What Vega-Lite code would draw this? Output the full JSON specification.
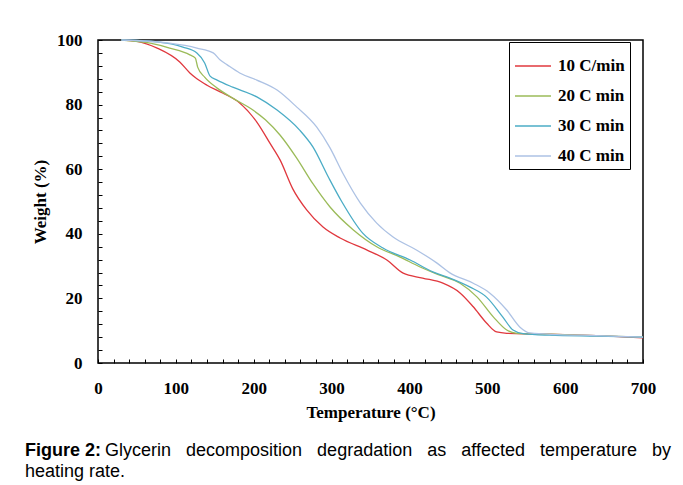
{
  "$schema": "https://vega.github.io/schema/vega-lite/v6.json",
  "width": 545,
  "height": 323,
  "autosize": {"type": "none"},
  "padding": {"left": 98, "top": 40, "right": 40, "bottom": 122},
  "background": "white",
  "config": {
    "view": {"stroke": "#000", "strokeWidth": 1.5},
    "axis": {"grid": false, "domain": false}
  },
  "title": {
    "text": "Figure 2:",
    "subtitle": ["\u200b\u00a0\u00a0\u00a0\u00a0\u00a0\u00a0\u00a0\u00a0\u00a0\u00a0\u00a0\u00a0\u00a0\u00a0\u00a0\u00a0Glycerin\u00a0\u00a0 decomposition\u00a0\u00a0 degradation\u00a0\u00a0 as\u00a0\u00a0 affected\u00a0\u00a0 temperature\u00a0\u00a0 by", "heating rate."],
    "orient": "bottom",
    "anchor": "start",
    "frame": "group",
    "dx": -73,
    "offset": 22,
    "font": "Liberation Sans",
    "fontSize": 18,
    "fontWeight": "bold",
    "color": "#000",
    "subtitleFont": "Liberation Sans",
    "subtitleFontSize": 18,
    "subtitleFontWeight": "normal",
    "subtitleColor": "#000",
    "subtitleLineHeight": 21,
    "subtitlePadding": -18
  },
  "data": {"values": [
    {"s":"10 C/min","t":30,"w":100},{"s":"10 C/min","t":50,"w":99.6},{"s":"10 C/min","t":76,"w":97.5},{"s":"10 C/min","t":105,"w":93.2},{"s":"10 C/min","t":118,"w":89.8},{"s":"10 C/min","t":127,"w":88},{"s":"10 C/min","t":140,"w":86},{"s":"10 C/min","t":160,"w":83.6},{"s":"10 C/min","t":182,"w":80.5},{"s":"10 C/min","t":204,"w":74.6},{"s":"10 C/min","t":221,"w":68},{"s":"10 C/min","t":234,"w":62.8},{"s":"10 C/min","t":250,"w":54},{"s":"10 C/min","t":268,"w":47.4},{"s":"10 C/min","t":289,"w":42.1},{"s":"10 C/min","t":311,"w":38.7},{"s":"10 C/min","t":345,"w":35},{"s":"10 C/min","t":371,"w":31.9},{"s":"10 C/min","t":392,"w":27.8},{"s":"10 C/min","t":417,"w":26.3},{"s":"10 C/min","t":443,"w":24.7},{"s":"10 C/min","t":465,"w":21.7},{"s":"10 C/min","t":482,"w":17.4},{"s":"10 C/min","t":499,"w":12.4},{"s":"10 C/min","t":512,"w":9.6},{"s":"10 C/min","t":525,"w":9.2},{"s":"10 C/min","t":560,"w":9},{"s":"10 C/min","t":600,"w":8.8},{"s":"10 C/min","t":650,"w":8.4},{"s":"10 C/min","t":700,"w":7.8},
    {"s":"20 C min","t":30,"w":100},{"s":"20 C min","t":67,"w":99},{"s":"20 C min","t":92,"w":97.5},{"s":"20 C min","t":118,"w":95.4},{"s":"20 C min","t":125,"w":94.4},{"s":"20 C min","t":128,"w":91.6},{"s":"20 C min","t":137,"w":88.5},{"s":"20 C min","t":153,"w":85.1},{"s":"20 C min","t":173,"w":82},{"s":"20 C min","t":199,"w":78.3},{"s":"20 C min","t":215,"w":75.3},{"s":"20 C min","t":234,"w":70.5},{"s":"20 C min","t":255,"w":63.5},{"s":"20 C min","t":276,"w":55.5},{"s":"20 C min","t":298,"w":48.3},{"s":"20 C min","t":328,"w":41.2},{"s":"20 C min","t":358,"w":36},{"s":"20 C min","t":388,"w":32.8},{"s":"20 C min","t":413,"w":29.8},{"s":"20 C min","t":439,"w":27.2},{"s":"20 C min","t":465,"w":24.7},{"s":"20 C min","t":487,"w":20.4},{"s":"20 C min","t":508,"w":14.2},{"s":"20 C min","t":525,"w":10.2},{"s":"20 C min","t":538,"w":9.2},{"s":"20 C min","t":580,"w":8.9},{"s":"20 C min","t":640,"w":8.5},{"s":"20 C min","t":700,"w":8},
    {"s":"30 C min","t":30,"w":100},{"s":"30 C min","t":76,"w":99.4},{"s":"30 C min","t":109,"w":97.8},{"s":"30 C min","t":127,"w":96},{"s":"30 C min","t":137,"w":92.9},{"s":"30 C min","t":144,"w":88.8},{"s":"30 C min","t":153,"w":87.6},{"s":"30 C min","t":173,"w":85.4},{"s":"30 C min","t":204,"w":82.4},{"s":"30 C min","t":230,"w":78.3},{"s":"30 C min","t":259,"w":72.1},{"s":"30 C min","t":276,"w":66.9},{"s":"30 C min","t":296,"w":57.5},{"s":"30 C min","t":313,"w":50},{"s":"30 C min","t":340,"w":40.2},{"s":"30 C min","t":366,"w":35.6},{"s":"30 C min","t":401,"w":31.9},{"s":"30 C min","t":430,"w":28.2},{"s":"30 C min","t":452,"w":26.3},{"s":"30 C min","t":478,"w":23.5},{"s":"30 C min","t":499,"w":20.4},{"s":"30 C min","t":520,"w":14.2},{"s":"30 C min","t":533,"w":10.2},{"s":"30 C min","t":546,"w":9.1},{"s":"30 C min","t":580,"w":8.6},{"s":"30 C min","t":640,"w":8.3},{"s":"30 C min","t":700,"w":8},
    {"s":"40 C min","t":30,"w":100},{"s":"40 C min","t":92,"w":99},{"s":"40 C min","t":127,"w":97.5},{"s":"40 C min","t":148,"w":96},{"s":"40 C min","t":157,"w":93.8},{"s":"40 C min","t":166,"w":92.3},{"s":"40 C min","t":182,"w":89.8},{"s":"40 C min","t":204,"w":87.6},{"s":"40 C min","t":230,"w":84.5},{"s":"40 C min","t":255,"w":79.3},{"s":"40 C min","t":281,"w":73},{"s":"40 C min","t":298,"w":66.6},{"s":"40 C min","t":315,"w":58.5},{"s":"40 C min","t":337,"w":49.5},{"s":"40 C min","t":358,"w":43.3},{"s":"40 C min","t":379,"w":39},{"s":"40 C min","t":409,"w":35},{"s":"40 C min","t":435,"w":31},{"s":"40 C min","t":452,"w":27.9},{"s":"40 C min","t":482,"w":24.7},{"s":"40 C min","t":503,"w":21.7},{"s":"40 C min","t":525,"w":16.4},{"s":"40 C min","t":542,"w":11.1},{"s":"40 C min","t":555,"w":9.3},{"s":"40 C min","t":590,"w":8.8},{"s":"40 C min","t":640,"w":8.5},{"s":"40 C min","t":700,"w":8}
  ]},
  "resolve": {"axis": {"x": "independent", "y": "independent"}},
  "layer": [
    {
      "mark": {"type": "line", "interpolate": "monotone", "strokeWidth": 1.3},
      "encoding": {
        "x": {"field": "t", "type": "quantitative",
          "scale": {"domain": [0, 700], "nice": false, "zero": false},
          "axis": {"orient": "bottom", "values": [0,100,200,300,400,500,600,700], "ticks": false, "labelPadding": 17, "labelFlush": false,
            "labelFont": "Liberation Serif", "labelFontSize": 17, "labelFontWeight": "bold", "labelColor": "#000",
            "title": "Temperature (°C)", "titleFont": "Liberation Serif", "titleFontSize": 17, "titleFontWeight": "bold", "titleColor": "#000", "titlePadding": 8}},
        "y": {"field": "w", "type": "quantitative",
          "scale": {"domain": [0, 100], "nice": false},
          "axis": {"orient": "left", "values": [0,20,40,60,80,100], "ticks": false, "labelPadding": 16, "labelFlush": false,
            "labelFont": "Liberation Serif", "labelFontSize": 17, "labelFontWeight": "bold", "labelColor": "#000",
            "title": "Weight (%)", "titleFont": "Liberation Serif", "titleFontSize": 17, "titleFontWeight": "bold", "titleColor": "#000", "titlePadding": 7}},
        "color": {"field": "s", "type": "nominal",
          "scale": {"domain": ["10 C/min","20 C min","30 C min","40 C min"], "range": ["#e0383e","#9bbb59","#4bacc6","#adc2e4"]},
          "legend": {"orient": "none", "legendX": 411, "legendY": 2, "title": null,
            "fillColor": "#fff", "strokeColor": "#000", "padding": 5,
            "symbolType": "stroke", "symbolSize": 1300, "symbolStrokeWidth": 1.5,
            "labelFont": "Liberation Serif", "labelFontSize": 17, "labelFontWeight": "bold", "labelColor": "#000",
            "rowPadding": 3, "labelOffset": 6}}
      }
    },
    {
      "mark": {"type": "line", "strokeOpacity": 0},
      "encoding": {
        "x": {"field": "t", "type": "quantitative",
          "axis": {"orient": "bottom", "values": [0,20,40,60,80,100,120,140,160,180,200,220,240,260,280,300,320,340,360,380,400,420,440,460,480,500,520,540,560,580,600,620,640,660,680,700],
            "labels": false, "tickSize": -4, "tickColor": "#000", "tickWidth": 1, "title": null}},
        "y": {"field": "w", "type": "quantitative",
          "axis": {"orient": "left", "values": [0,4,8,12,16,20,24,28,32,36,40,44,48,52,56,60,64,68,72,76,80,84,88,92,96,100],
            "labels": false, "tickSize": -4, "tickColor": "#000", "tickWidth": 1, "title": null}},
        "detail": {"field": "s", "type": "nominal"}
      }
    }
  ]
}
